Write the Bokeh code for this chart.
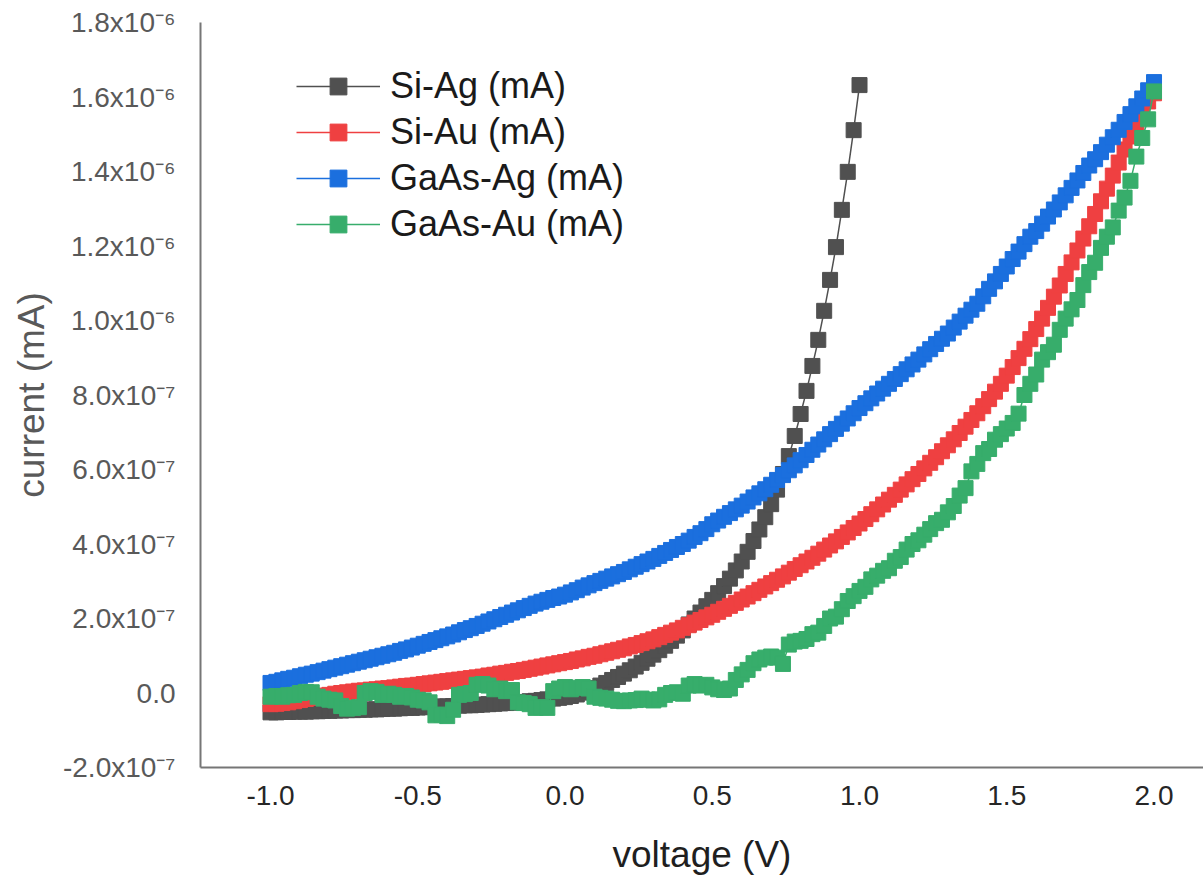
from bokeh.plotting import figure
from bokeh.models import (Range1d, FixedTicker, CustomJSTickFormatter, PrintfTickFormatter,
                          Legend, LegendItem)
from bokeh.embed import file_html
from bokeh.resources import INLINE

# ---------------- data (current in units of 1e-7 mA) ----------------
CURRENT_UNIT = 1e-7
V_START = -1.0
V_STEP = 0.02

series_names = ["Si-Ag (mA)", "Si-Au (mA)", "GaAs-Ag (mA)", "GaAs-Au (mA)"]
series_colors = ["#505050", "#EF4041", "#1B6FDE", "#37AD6B"]

si_ag = [
    -0.52, -0.52, -0.51, -0.51, -0.50, -0.50, -0.50, -0.49, -0.49, -0.48,
    -0.48, -0.47, -0.47, -0.46, -0.46, -0.45, -0.45, -0.44, -0.44, -0.43,
    -0.42, -0.42, -0.41, -0.40, -0.40, -0.39, -0.38, -0.38, -0.37, -0.36,
    -0.36, -0.35, -0.34, -0.33, -0.33, -0.32, -0.31, -0.30, -0.29, -0.28,
    -0.27, -0.26, -0.25, -0.24, -0.22, -0.21, -0.19, -0.17, -0.15, -0.13,
    -0.11, -0.08, -0.04, 0.01, 0.07, 0.13, 0.20, 0.27, 0.35, 0.43,
    0.52, 0.61, 0.71, 0.81, 0.92, 1.03, 1.15, 1.27, 1.40, 1.54,
    1.68, 1.84, 2.00, 2.16, 2.33, 2.50, 2.68, 2.87, 3.07, 3.29,
    3.53, 3.79, 4.08, 4.39, 4.72, 5.07, 5.46, 5.88, 6.36, 6.90,
    7.49, 8.11, 8.78, 9.48, 10.26, 11.09, 11.97, 12.97, 13.99, 15.11,
    16.32,
]

si_au = [
    -0.30, -0.29, -0.27, -0.25, -0.22, -0.19, -0.16, -0.13, -0.10, -0.07,
    -0.05, -0.02, 0.00, 0.02, 0.04, 0.06, 0.07, 0.09, 0.10, 0.12,
    0.13, 0.15, 0.17, 0.19, 0.20, 0.22, 0.24, 0.26, 0.28, 0.30,
    0.32, 0.34, 0.36, 0.38, 0.40, 0.42, 0.44, 0.47, 0.49, 0.52,
    0.54, 0.57, 0.59, 0.62, 0.65, 0.68, 0.71, 0.74, 0.77, 0.80,
    0.83, 0.86, 0.90, 0.93, 0.97, 1.00, 1.04, 1.08, 1.12, 1.16,
    1.20, 1.25, 1.29, 1.34, 1.39, 1.44, 1.50, 1.56, 1.62, 1.68,
    1.75, 1.82, 1.89, 1.96, 2.03, 2.10, 2.18, 2.26, 2.34, 2.42,
    2.51, 2.59, 2.68, 2.77, 2.86, 2.95, 3.04, 3.13, 3.23, 3.33,
    3.43, 3.53, 3.63, 3.74, 3.85, 3.96, 4.07, 4.19, 4.31, 4.43,
    4.55, 4.67, 4.80, 4.93, 5.06, 5.19, 5.32, 5.46, 5.60, 5.74,
    5.88, 6.03, 6.18, 6.33, 6.49, 6.65, 6.81, 6.98, 7.15, 7.33,
    7.51, 7.70, 7.89, 8.09, 8.30, 8.52, 8.75, 8.99, 9.24, 9.50,
    9.77, 10.05, 10.34, 10.64, 10.94, 11.25, 11.56, 11.88, 12.20, 12.53,
    12.86, 13.20, 13.54, 13.89, 14.24, 14.59, 14.94, 15.29, 15.60, 15.88,
    16.10,
]

gaas_ag = [
    0.27, 0.30, 0.34, 0.38, 0.41, 0.45, 0.49, 0.52, 0.56, 0.60,
    0.64, 0.68, 0.72, 0.76, 0.80, 0.84, 0.88, 0.92, 0.96, 1.00,
    1.04, 1.08, 1.13, 1.17, 1.22, 1.27, 1.32, 1.37, 1.42, 1.47,
    1.52, 1.57, 1.63, 1.69, 1.74, 1.80, 1.86, 1.92, 1.98, 2.04,
    2.10, 2.16, 2.22, 2.28, 2.34, 2.40, 2.45, 2.50, 2.55, 2.59,
    2.64, 2.70, 2.76, 2.83, 2.89, 2.95, 3.01, 3.07, 3.13, 3.19,
    3.25, 3.32, 3.39, 3.46, 3.53, 3.60, 3.68, 3.76, 3.84, 3.92,
    4.00, 4.09, 4.19, 4.29, 4.40, 4.53, 4.63, 4.73, 4.83, 4.93,
    5.03, 5.14, 5.25, 5.36, 5.47, 5.59, 5.72, 5.85, 5.98, 6.11,
    6.25, 6.39, 6.53, 6.67, 6.81, 6.95, 7.09, 7.23, 7.37, 7.51,
    7.65, 7.78, 7.91, 8.04, 8.17, 8.30, 8.43, 8.56, 8.69, 8.82,
    8.95, 9.09, 9.23, 9.37, 9.51, 9.65, 9.81, 9.97, 10.13, 10.29,
    10.45, 10.65, 10.85, 11.05, 11.25, 11.45, 11.65, 11.85, 12.05, 12.25,
    12.40, 12.60, 12.79, 12.98, 13.17, 13.36, 13.56, 13.76, 13.96, 14.16,
    14.33, 14.52, 14.72, 14.92, 15.12, 15.33, 15.54, 15.75, 15.96, 16.18,
    16.40,
]

gaas_au = [
    -0.10, -0.08, -0.10, -0.06, -0.05, 0.00, 0.03, 0.02, -0.10, -0.15,
    -0.18, -0.20, -0.35, -0.42, -0.40, -0.38, 0.00, 0.05, 0.03, -0.05,
    -0.02, -0.05, -0.10, -0.08, -0.12, -0.18, -0.20, -0.25, -0.60, -0.58,
    -0.62, -0.45, -0.05, -0.03, 0.00, 0.22, 0.24, 0.20, 0.10, 0.12,
    0.05, 0.08, -0.25, -0.27, -0.30, -0.40, -0.38, -0.40, 0.05, 0.12,
    0.16, 0.10, 0.14, 0.16, 0.12, -0.10, -0.13, -0.15, -0.18, -0.21,
    -0.22, -0.20, -0.19, -0.15, -0.18, -0.20, -0.17, -0.05, 0.00, 0.02,
    -0.02, 0.20, 0.24, 0.20, 0.22, 0.15, 0.10, 0.08, 0.12, 0.35,
    0.50, 0.62, 0.80, 0.90, 0.95, 0.98, 0.95, 0.78, 1.30, 1.38,
    1.40, 1.45, 1.58, 1.62, 1.80, 2.00, 2.05, 2.25, 2.47, 2.60,
    2.74, 2.85, 3.05, 3.15, 3.28, 3.35, 3.55, 3.65, 3.85, 4.00,
    4.10, 4.25, 4.40, 4.56, 4.65, 4.85, 5.02, 5.30, 5.50, 5.95,
    6.15, 6.44, 6.55, 6.80, 6.95, 7.10, 7.25, 7.50, 8.00, 8.30,
    8.55, 8.95, 9.15, 9.35, 9.75, 10.05, 10.30, 10.55, 10.95, 11.30,
    11.55, 11.95, 12.25, 12.50, 12.95, 13.30, 13.75, 14.40, 14.90, 15.40,
    16.15,
]

x_ticks = [-1.0, -0.5, 0.0, 0.5, 1.0, 1.5, 2.0]
y_ticks = [-2e-7, 0.0, 2e-7, 4e-7, 6e-7, 8e-7, 1.0e-6, 1.2e-6, 1.4e-6, 1.6e-6, 1.8e-6]
y_tick_labels = ["-2.0x10\u207b\u2077", "0.0", "2.0x10\u207b\u2077", "4.0x10\u207b\u2077",
                 "6.0x10\u207b\u2077", "8.0x10\u207b\u2077", "1.0x10\u207b\u2076",
                 "1.2x10\u207b\u2076", "1.4x10\u207b\u2076", "1.6x10\u207b\u2076",
                 "1.8x10\u207b\u2076"]

x_title = "voltage (V)"
y_title = "current (mA)"

# ---------------- figure ----------------
X_START, X_END = -1.2377, 2.168
Y_START, Y_END = -2e-7, 1.8e-6
FONT = "Liberation Sans"

p = figure(width=1203, height=878, output_backend="svg", toolbar_location=None,
           x_range=Range1d(X_START, X_END), y_range=Range1d(Y_START, Y_END),
           min_border_left=200, min_border_right=0, min_border_top=22,
           min_border_bottom=111)
p.outline_line_color = None
p.grid.visible = False
p.background_fill_color = "white"
p.border_fill_color = "white"

AX_COLOR = "#767676"
p.xaxis.ticker = FixedTicker(ticks=x_ticks)
p.xaxis.formatter = PrintfTickFormatter(format="%.1f")
p.xaxis.major_tick_line_color = None
p.xaxis.minor_tick_line_color = None
p.xaxis.major_tick_out = 0
p.xaxis.major_tick_in = 0
p.xaxis.axis_line_color = AX_COLOR
p.xaxis.axis_line_width = 2
p.xaxis.major_label_text_font = FONT
p.xaxis.major_label_text_font_size = "28px"
p.xaxis.major_label_text_color = "#262626"
p.xaxis.major_label_standoff = 18
p.xaxis.axis_label = x_title
p.xaxis.axis_label_text_font = FONT
p.xaxis.axis_label_text_font_size = "37px"
p.xaxis.axis_label_text_font_style = "normal"
p.xaxis.axis_label_text_color = "#1f1f1f"
p.xaxis.axis_label_standoff = 26

p.yaxis.ticker = FixedTicker(ticks=y_ticks)
p.yaxis.formatter = CustomJSTickFormatter(
    args=dict(tick_vals=y_ticks, tick_text=y_tick_labels),
    code="""
for (let i = 0; i < tick_vals.length; i++) {
  if (Math.abs(tick_vals[i] - tick) < 1e-12) { return tick_text[i]; }
}
return '';
""")
p.yaxis.major_tick_line_color = None
p.yaxis.minor_tick_line_color = None
p.yaxis.major_tick_out = 0
p.yaxis.major_tick_in = 0
p.yaxis.axis_line_color = AX_COLOR
p.yaxis.axis_line_width = 2
p.yaxis.major_label_text_font = FONT
p.yaxis.major_label_text_font_size = "28px"
p.yaxis.major_label_text_color = "#595959"
p.yaxis.major_label_standoff = 25
p.yaxis.axis_label = y_title
p.yaxis.axis_label_text_font = FONT
p.yaxis.axis_label_text_font_size = "37px"
p.yaxis.axis_label_text_font_style = "normal"
p.yaxis.axis_label_text_color = "#595959"
p.yaxis.axis_label_standoff = 8

# ---------------- series ----------------
all_series = [si_ag, si_au, gaas_ag, gaas_au]
items = []
for vals, color, name in zip(all_series, series_colors, series_names):
    volts = [round(V_START + V_STEP * i, 2) for i in range(len(vals))]
    amps = [v * CURRENT_UNIT for v in vals]
    lr = p.line(volts, amps, line_color=color, line_width=1.5)
    sr = p.scatter(volts, amps, marker="square", size=15, fill_color=color,
                   line_color=color, line_width=1)
    items.append(LegendItem(label=name, renderers=[lr, sr]))

# ---------------- legend ----------------
legend = Legend(items=items, location=(96, 522), padding=0, margin=0, spacing=4,
                glyph_width=84, glyph_height=42, label_height=42, label_standoff=10,
                label_text_font=FONT, label_text_font_size="36px",
                label_text_color="#1a1a1a", border_line_color=None,
                background_fill_alpha=0)
p.add_layout(legend)

open("out.html", "w").write(file_html(p, INLINE))
